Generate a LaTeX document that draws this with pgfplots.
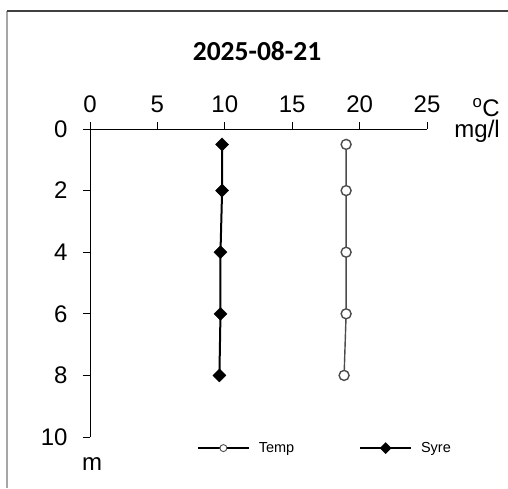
\documentclass[border=0pt]{standalone}
\usepackage{pgfplots}
\pgfplotsset{compat=1.18}
\usepackage{fontspec}
\setmainfont{Liberation Sans}
\newfontfamily\titlefont{Carlito}
\begin{document}
\begin{tikzpicture}[x=1pt,y=1pt]
\useasboundingbox (0,0) rectangle (508,488);
% frame of the chart area
\draw[gray!70, line width=1.2pt] (7,0) -- (7,477);
\draw[black!75, line width=1.2pt] (7,477) -- (508,477);
\begin{axis}[
    at={(90pt,51pt)}, anchor=south west,
    scale only axis,
    width=337pt, height=308pt,
    xmin=0, xmax=25, ymin=0, ymax=10,
    y dir=reverse,
    axis x line*=top, axis y line*=left,
    axis line style={line width=0.9pt, -},
    xtick={0,5,...,25}, ytick={0,2,...,10},
    tick align=outside, major tick length=7pt,
    tick style={line width=0.9pt, black},
    ticklabel style={font=\fontsize{24}{28}\selectfont},
    xticklabel style={yshift=6pt},
    yticklabel style={xshift=-12pt},
    /pgf/number format/assume math mode=true,
    clip=false,
    legend columns=2,
    legend style={draw=none, fill=none, inner sep=0pt, outer sep=0pt,
        at={(0.3175,-0.036)}, anchor=west,
        font=\fontsize{14.5}{16}\selectfont,
        /tikz/every odd column/.append style={column sep=7pt},
        /tikz/every even column/.append style={column sep=63pt}},
]
\addplot[black!70, line width=1.4pt, mark=*, mark size=5pt,
    mark options={fill=white, draw=black!70, line width=1.4pt},
    legend image code/.code={
        \draw[black, line width=1.8pt] (0pt,0pt) -- (51pt,0pt);
        \draw[black!70, fill=white, line width=0.9pt] (25.5pt,0pt) circle (3.5pt);}]
    coordinates {(19.0,0.5)(19.0,2)(19.0,4)(19.0,6)(18.85,8)};
\addlegendentry{Temp}
\addplot[black, line width=2pt, mark=square*, mark size=4.6pt,
    mark options={fill=black, draw=black, line width=0.4pt, rotate=45},
    legend image code/.code={
        \draw[black, line width=1.8pt] (0pt,0pt) -- (51pt,0pt);
        \fill[black] (25.5pt,4.5pt) -- (30pt,0pt) -- (25.5pt,-4.5pt) -- (21pt,0pt) -- cycle;}]
    coordinates {(9.8,0.5)(9.8,2)(9.68,4)(9.68,6)(9.6,8)};
\addlegendentry{Syre}
\end{axis}
\node[font=\titlefont\bfseries\fontsize{27.5}{30}\selectfont] at (257,437) {2025-08-21};
% unit labels of the x axis, one above the other
\node[font=\fontsize{24}{21}\selectfont, align=right, anchor=south east, inner sep=0pt]
    at (500,345) {$^{\mathrm{o}}$C\\mg/l};
\node[font=\fontsize{24}{28}\selectfont] at (92,24) {m};
\end{tikzpicture}
\end{document}
